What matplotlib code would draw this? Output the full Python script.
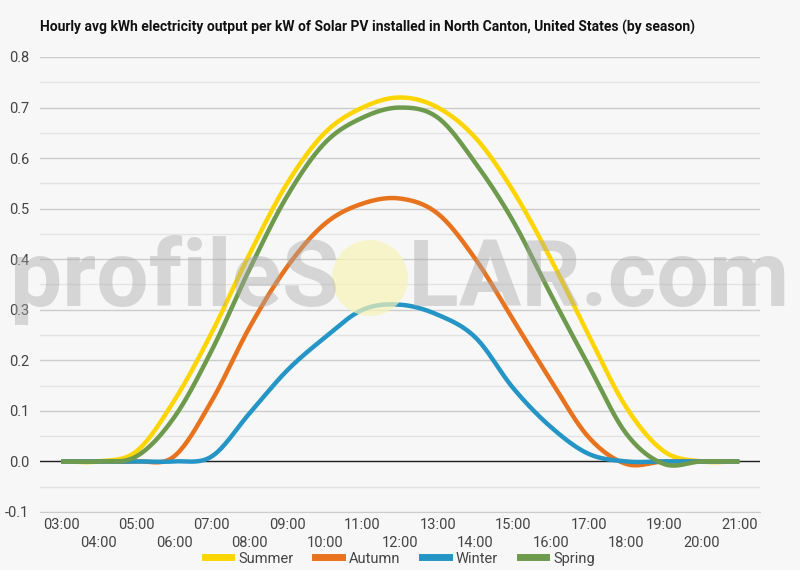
import numpy as np
import matplotlib
matplotlib.use('Agg')
import matplotlib.pyplot as plt
from matplotlib.patches import Circle
from matplotlib.lines import Line2D

plt.rcParams['font.family'] = ['Roboto', 'DejaVu Sans']

hours = list(range(3, 22))
hour_labels = [f"{h:02d}:00" for h in hours]

summer = [0.0, 0.0, 0.02, 0.12, 0.255, 0.41, 0.55, 0.65, 0.70, 0.72,
          0.70, 0.64, 0.535, 0.40, 0.25, 0.107, 0.02, 0.0, 0.0]
autumn = [0.0, 0.0, 0.0, 0.01, 0.12, 0.265, 0.385, 0.47, 0.51, 0.52,
          0.49, 0.40, 0.28, 0.16, 0.048, -0.005, 0.0, 0.0, 0.0]
winter = [0.0, 0.0, 0.0, 0.0, 0.01, 0.095, 0.18, 0.245, 0.30, 0.31,
          0.29, 0.245, 0.145, 0.068, 0.015, 0.0, 0.0, 0.0, 0.0]
spring = [0.0, 0.0, 0.01, 0.087, 0.22, 0.38, 0.525, 0.63, 0.68, 0.70,
          0.68, 0.59, 0.475, 0.33, 0.19, 0.055, -0.005, 0.0, 0.0]

series = [("Summer", summer, "#FFD500"),
          ("Autumn", autumn, "#E8731F"),
          ("Winter", winter, "#2595C6"),
          ("Spring", spring, "#6D9A4C")]


def smooth(x, y, n=20):
    # catmull-rom style smoothing, like spreadsheet "smoothed line"
    x = np.asarray(x, float)
    y = np.asarray(y, float)
    px = np.concatenate([[2 * x[0] - x[1]], x, [2 * x[-1] - x[-2]]])
    py = np.concatenate([[y[0]], y, [y[-1]]])
    xs, ys = [], []
    t = np.linspace(0, 1, n, endpoint=False)
    for i in range(1, len(px) - 2):
        for p, out in ((px, xs), (py, ys)):
            p0, p1, p2, p3 = p[i - 1], p[i], p[i + 1], p[i + 2]
            out.extend(0.5 * (2 * p1 + (-p0 + p2) * t
                              + (2 * p0 - 5 * p1 + 4 * p2 - p3) * t ** 2
                              + (-p0 + 3 * p1 - 3 * p2 + p3) * t ** 3))
    xs.append(x[-1]); ys.append(y[-1])
    return np.array(xs), np.array(ys)


bg = "#f7f7f7"
fig = plt.figure(figsize=(8, 5.7), dpi=100, facecolor=bg)
ax = fig.add_axes([0.05, 0.1018, 0.9, 0.7982])
ax.set_facecolor(bg)

ax.set_xlim(2.44, 21.55)
ax.set_ylim(-0.1, 0.8)

ax.set_yticks(np.arange(-0.1, 0.81, 0.1))
ax.set_yticks(np.arange(-0.05, 0.8, 0.1), minor=True)
ax.set_yticklabels([f"{v:.1f}" for v in np.arange(-0.1, 0.81, 0.1)])
ax.grid(axis='y', which='major', color='#cccccc', linewidth=1)
ax.grid(axis='y', which='minor', color='#e3e3e3', linewidth=1)
ax.set_axisbelow(True)
ax.axhline(0, color='#222222', linewidth=1, zorder=2)

ax.set_xticks(hours[::2])
ax.set_xticklabels(hour_labels[::2])
ax.set_xticks(hours[1::2], minor=True)
ax.set_xticklabels(hour_labels[1::2], minor=True)
ax.tick_params(axis='x', which='major', length=0, pad=4, labelsize=10.5, colors='#444444')
ax.tick_params(axis='x', which='minor', length=0, pad=17, labelsize=10.5, colors='#444444')
ax.tick_params(axis='y', which='both', length=0, pad=8, labelsize=10.5, colors='#444444')

for s in ['top', 'right', 'left']:
    ax.spines[s].set_visible(False)
ax.spines['bottom'].set_color('#cccccc')

for name, vals, col in series:
    sx, sy = smooth(hours, vals)
    ax.plot(sx, sy, color=col, linewidth=3.2, solid_capstyle='butt', zorder=3, label=name)

# watermark
fig.text(0.5, 0.508, "profileS   LAR.com", ha='center', va='center', fontsize=67,
         color='#a8a8a8', alpha=0.42, zorder=10, fontweight='bold')
sun = Circle((3.70, 5.7 - 2.78), 0.38, transform=fig.dpi_scale_trans,
             facecolor='#f8f3b8', edgecolor='none', alpha=0.7, zorder=9)
fig.patches.append(sun)

fig.text(0.05, 0.951, "Hourly avg kWh electricity output per kW of Solar PV installed in North Canton, United States (by season)",
         ha='left', va='center', fontsize=10, fontweight='bold', color='#111111')

handles = [Line2D([0], [0], color=c, linewidth=5) for _, _, c in series]
fig.legend(handles, [n for n, _, _ in series], loc='center', bbox_to_anchor=(0.5, 0.02),
           ncol=4, frameon=False, fontsize=10.5, handlelength=1.8, handletextpad=0.5,
           columnspacing=1.5, labelcolor='#444444')

fig.savefig("out.png", dpi=100, facecolor=bg)
